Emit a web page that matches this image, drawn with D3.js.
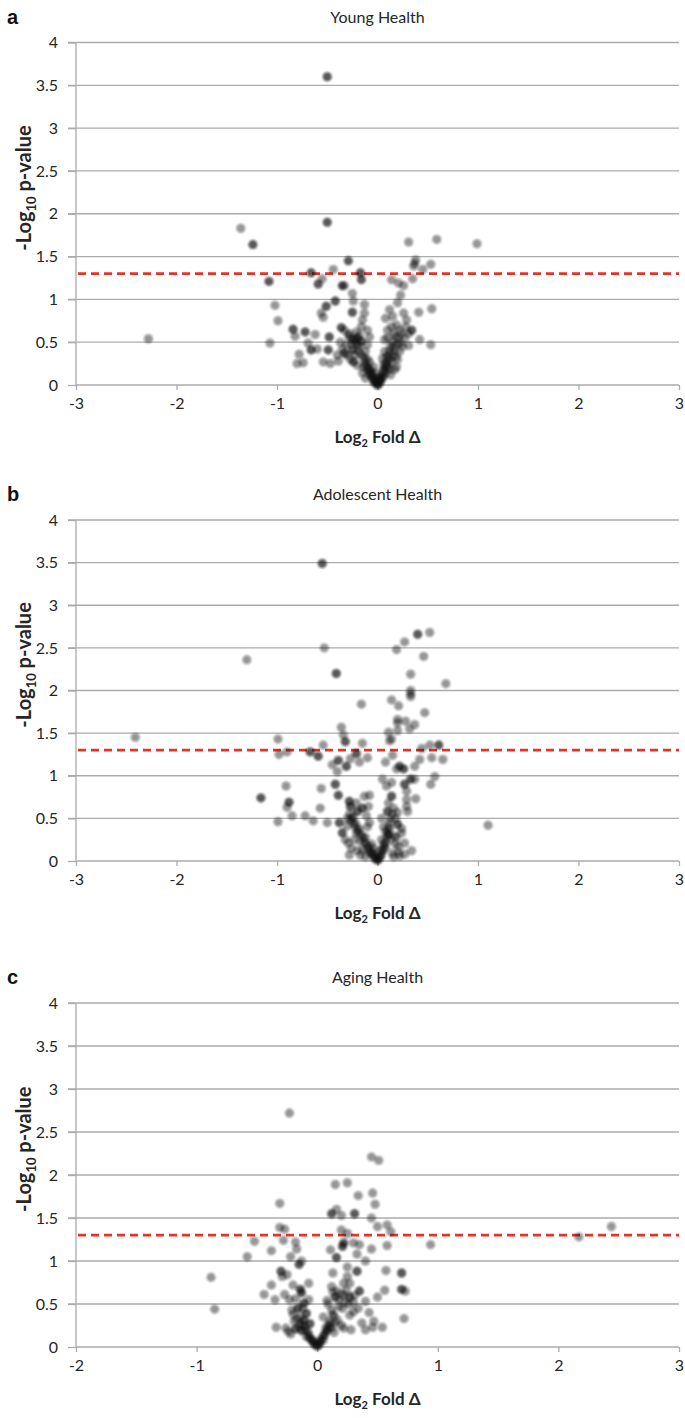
<!DOCTYPE html>
<html>
<head>
<meta charset="utf-8">
<script src="https://cdn.jsdelivr.net/npm/d3@7"></script>
<style>
  body { margin: 0; background: #fff; }
  svg { display: block; }
  text { font-family: Lato, "Open Sans", sans-serif; }
</style>
</head>
<body>
<svg id="chart" width="685" height="1418"></svg>
<script>
// ---------- DATA ----------
const yTicks = [0, 0.5, 1, 1.5, 2, 2.5, 3, 3.5, 4];
const xTicksWide = [-3, -2, -1, 0, 1, 2, 3];
const xTicksAging = [-2, -1, 0, 1, 2, 3];
const threshold = 1.301; // -log10(0.05)
const panelTitles = ["Young Health", "Adolescent Health", "Aging Health"];
const panelLetters = ["a", "b", "c"];

// [log2 fold change, -log10 p]
const youngPoints = [
 [-0.50,3.60],[-0.50,3.60],[-0.50,1.90],[-0.50,1.90],[-1.36,1.83],[-1.24,1.64],[-1.24,1.64],
 [0.31,1.67],[0.59,1.70],[0.99,1.65],
 [-0.29,1.45],[-0.29,1.45],[-0.44,1.35],[-0.66,1.31],[-0.66,1.31],[-0.17,1.31],[-0.17,1.31],
 [-0.16,1.23],[-0.16,1.23],[-1.08,1.21],[-1.08,1.21],[-0.55,1.24],[-0.59,1.18],[-0.59,1.18],
 [-0.35,1.16],[-0.35,1.16],[-0.33,1.16],
 [0.14,1.23],[0.21,1.19],[0.26,1.16],[0.23,1.05],[0.35,1.24],[0.36,1.39],[0.38,1.46],[0.37,1.42],
 [0.45,1.35],[0.53,1.41],
 [-0.25,1.07],[-0.24,0.98],[-0.42,0.98],[-0.42,0.98],[-0.51,0.92],[-0.51,0.92],[-1.02,0.93],
 [-0.25,0.85],[-0.25,0.85],[-0.13,0.94],[-0.56,0.84],[-0.54,0.79],[-0.99,0.75],
 [0.12,0.88],[0.15,0.80],[0.20,0.96],[0.26,0.84],[0.29,0.76],[0.41,0.85],[0.54,0.89],[0.08,0.78],
 [-0.84,0.65],[-0.84,0.65],[-0.72,0.62],[-0.72,0.62],[-0.62,0.59],[-0.48,0.56],[-0.48,0.56],
 [-0.36,0.67],[-0.36,0.67],[-0.33,0.64],[-0.82,0.57],[-1.07,0.49],[-2.28,0.54],[-0.69,0.49],
 [-0.66,0.41],[-0.66,0.41],[-0.60,0.42],[-0.49,0.41],[-0.49,0.41],[-0.78,0.36],[-0.80,0.25],
 [-0.74,0.26],[-0.54,0.27],[-0.47,0.25],[-0.39,0.28],
 [0.42,0.53],[0.53,0.47],[0.31,0.46],[0.34,0.64],[0.34,0.64],[0.31,0.60],[0.22,0.64],[0.14,0.68],
 [0.10,0.64],[0.18,0.56],[0.10,0.55],[0.07,0.53],[0.23,0.49],[0.16,0.45],[0.22,0.39],[0.09,0.33],
 [0.14,0.27],[0.19,0.21],[0.12,0.18],[0.05,0.31],[0.07,0.39],
 [-0.24,0.53],[-0.24,0.53],[-0.20,0.55],[-0.20,0.55],[-0.16,0.51],[-0.16,0.51],[-0.31,0.47],
 [-0.25,0.41],[-0.25,0.41],[-0.33,0.37],[-0.33,0.37],[-0.22,0.35],[-0.16,0.68],[-0.15,0.76],
 [-0.13,0.84],[-0.10,0.64],[-0.08,0.56],[-0.10,0.47],[-0.12,0.39],[-0.24,0.27],[-0.24,0.27],
 [-0.20,0.23],[-0.14,0.21],[-0.15,0.14],[-0.12,0.08],[-0.08,0.18],[-0.06,0.10],[-0.04,0.04],
 [0.00,0.00],[0.00,0.00],[0.02,0.02],[0.04,0.06],[0.06,0.10],[0.08,0.14],[0.10,0.21],[-0.08,0.27],
 [-0.04,0.21],[-0.02,0.14],[0.00,0.08],[-0.02,0.03],[0.01,0.01],[0.03,0.05],[-0.05,0.12],
 [0.05,0.15],[-0.10,0.30],[-0.18,0.45],[-0.28,0.60],[0.12,0.40],[0.20,0.30],[-0.03,0.06],
 [0.02,0.09],[-0.07,0.16],[0.06,0.24],[-0.11,0.22],[0.15,0.35],
 [-0.02,0.02],[-0.03,0.05],[-0.05,0.08],[-0.06,0.13],[-0.08,0.12],[-0.09,0.20],[-0.10,0.17],
 [-0.12,0.25],[-0.13,0.30],[-0.14,0.33],[-0.17,0.36],[-0.19,0.40],[-0.20,0.47],[-0.22,0.50],
 [-0.26,0.48],[-0.27,0.55],[-0.29,0.58],[-0.30,0.35],[-0.27,0.30],[-0.35,0.42],[-0.37,0.50],
 [-0.40,0.35],[-0.21,0.62],[-0.18,0.58],
 [0.02,0.04],[0.03,0.08],[0.05,0.10],[0.06,0.17],[0.07,0.20],[0.08,0.25],[0.09,0.22],[0.10,0.28],
 [0.11,0.35],[0.12,0.30],[0.13,0.45],[0.15,0.50],[0.17,0.40],[0.18,0.33],[0.20,0.48],[0.21,0.55],
 [0.24,0.60],[0.25,0.45],[0.27,0.55],[0.16,0.60],[0.19,0.70],[0.28,0.68],[0.13,0.12],[0.17,0.18]
];

const adolescentPoints = [
 [-0.55,3.49],[-0.55,3.49],[-0.53,2.50],[-1.30,2.36],[-0.41,2.20],[-0.41,2.20],[0.19,2.48],
 [0.27,2.57],[0.40,2.66],[0.40,2.66],[0.52,2.68],[0.46,2.40],[0.33,2.19],
 [0.68,2.08],[0.33,2.00],[0.33,1.96],[0.33,1.93],[-0.16,1.84],[0.14,1.89],[0.21,1.82],[0.47,1.74],
 [0.20,1.66],[0.20,1.62],[0.28,1.64],[0.37,1.60],[0.32,1.55],[0.20,1.53],[0.11,1.51],
 [-0.36,1.57],[-0.34,1.48],[-0.32,1.40],[-0.32,1.40],[0.12,1.41],[0.14,1.43],[-2.41,1.45],
 [-0.99,1.43],[-0.54,1.36],[-0.15,1.38],[-0.90,1.28],[-0.98,1.25],[-0.67,1.28],[-0.67,1.28],
 [-0.59,1.23],[-0.59,1.23],[-0.21,1.26],[-0.21,1.26],[-0.10,1.21],[-0.18,1.16],[-0.27,1.20],
 [-0.39,1.18],[-0.39,1.18],[-0.45,1.13],[-0.31,1.11],[-0.31,1.11],[-0.40,1.05],
 [0.15,1.24],[0.08,1.16],[0.19,1.08],[0.22,1.11],[0.22,1.11],[0.26,1.08],[0.26,1.08],[0.37,1.11],
 [0.42,1.19],[0.54,1.21],[0.65,1.19],[0.44,1.32],[0.52,1.36],[0.61,1.36],[0.61,1.36],
 [0.57,0.99],[0.53,0.90],[0.05,0.96],[0.14,0.92],[0.09,0.88],[0.27,0.90],[0.27,0.90],[0.33,0.96],
 [0.33,0.96],[0.37,0.96],[0.29,0.82],[0.29,0.72],[0.38,0.73],[0.29,0.64],[0.30,0.58],[0.20,0.57],
 [0.14,0.76],[0.14,0.76],[0.11,0.68],[0.10,0.58],[0.10,0.58],[0.20,0.43],[0.20,0.43],[0.12,0.37],
 [0.11,0.31],[0.11,0.31],[0.27,0.21],[0.21,0.17],[0.34,0.12],[0.21,0.10],[0.15,0.09],[1.10,0.42],
 [-0.91,0.88],[-0.56,0.85],[-0.42,0.90],[-0.42,0.90],[-0.39,0.77],[-0.39,0.77],[-1.16,0.74],
 [-1.16,0.74],[-0.88,0.69],[-0.88,0.69],[-0.90,0.63],[-0.57,0.62],[-0.85,0.53],[-0.72,0.53],
 [-0.64,0.47],[-0.50,0.45],[-0.99,0.46],[-0.38,0.45],[-0.38,0.45],
 [-0.28,0.70],[-0.28,0.70],[-0.27,0.64],[-0.27,0.64],[-0.20,0.58],[-0.20,0.58],[-0.15,0.62],
 [-0.15,0.62],[-0.09,0.64],[-0.13,0.76],[-0.08,0.77],[-0.11,0.53],[-0.08,0.45],
 [-0.35,0.33],[-0.35,0.33],[-0.30,0.41],[-0.29,0.21],[-0.28,0.07],[-0.21,0.33],[-0.17,0.23],
 [-0.15,0.13],[-0.09,0.17],[-0.07,0.09],[-0.03,0.03],[0.00,0.01],[0.00,0.01],[0.03,0.05],
 [0.05,0.11],[0.08,0.15],[0.13,0.25],[0.17,0.29],[-0.02,0.06],[0.01,0.02],[-0.05,0.10],
 [0.06,0.20],[-0.12,0.28],[-0.22,0.45],[-0.18,0.38],[0.08,0.35],[0.04,0.25],[-0.06,0.20],
 [0.18,0.50],[-0.25,0.52],[0.02,0.12],[-0.10,0.40],[0.24,0.33],[-0.04,0.15],
 [-0.02,0.03],[-0.04,0.06],[-0.06,0.09],[-0.08,0.12],[-0.10,0.15],[-0.11,0.20],[-0.13,0.22],
 [-0.14,0.27],[-0.16,0.30],[-0.18,0.33],[-0.20,0.36],[-0.22,0.40],[-0.24,0.44],[-0.25,0.50],
 [-0.27,0.48],[-0.30,0.50],[-0.23,0.25],[-0.26,0.15],[-0.20,0.12],[-0.32,0.25],[-0.12,0.05],
 [-0.17,0.07],[-0.28,0.55],[-0.21,0.68],
 [0.02,0.04],[0.04,0.08],[0.05,0.14],[0.07,0.18],[0.08,0.22],[0.09,0.28],[0.10,0.33],[0.11,0.40],
 [0.12,0.45],[0.13,0.50],[0.15,0.55],[0.16,0.62],[0.06,0.40],[0.04,0.50],[0.18,0.20],[0.16,0.05],
 [0.22,0.06],[0.27,0.08],[0.19,0.28],[0.24,0.38]
];

const agingPoints = [
 [-0.23,2.72],[0.45,2.21],[0.51,2.17],[0.15,1.89],[0.25,1.91],[0.34,1.76],[0.46,1.79],[0.48,1.66],
 [-0.31,1.67],[0.12,1.55],[0.12,1.55],[0.16,1.60],[0.20,1.53],[0.31,1.55],[0.31,1.55],[0.45,1.50],
 [0.50,1.40],[0.58,1.42],[0.61,1.34],[-0.31,1.39],[-0.27,1.37],[0.20,1.36],[0.25,1.32],
 [2.17,1.28],[2.44,1.40],
 [-0.52,1.23],[-0.28,1.24],[-0.18,1.22],[-0.17,1.14],[-0.38,1.12],[-0.58,1.05],[-0.22,1.05],
 [-0.13,1.00],[-0.15,0.96],[-0.15,0.96],[0.22,1.21],[0.22,1.21],[0.21,1.17],[0.21,1.17],
 [0.30,1.21],[0.35,1.19],[0.11,1.13],[0.16,1.04],[0.16,1.04],[0.33,1.08],[0.45,1.14],[0.58,1.18],
 [0.94,1.19],[0.40,1.00],[0.13,0.86],[0.25,0.93],[0.33,0.88],[0.33,0.88],[0.25,0.82],[0.57,0.89],
 [0.70,0.86],[0.70,0.86],[-0.30,0.88],[-0.30,0.88],[-0.25,0.84],[-0.29,0.82],[-0.88,0.81],
 [-0.38,0.72],[-0.44,0.61],[-0.35,0.55],[-0.27,0.61],[-0.20,0.72],[-0.14,0.67],[-0.14,0.67],
 [-0.13,0.63],[-0.13,0.63],[-0.07,0.74],[-0.18,0.56],[-0.11,0.51],[-0.11,0.51],
 [0.12,0.70],[0.22,0.74],[0.27,0.74],[0.13,0.64],[0.15,0.58],[0.15,0.58],[0.08,0.54],[0.22,0.60],
 [0.27,0.58],[0.27,0.58],[0.35,0.65],[0.35,0.65],[0.40,0.53],[0.50,0.58],[0.56,0.66],[0.70,0.67],
 [0.70,0.67],[0.73,0.65],
 [-0.85,0.44],[-0.21,0.43],[-0.16,0.45],[-0.16,0.45],[-0.09,0.39],[-0.09,0.39],[-0.17,0.33],
 [-0.11,0.31],[-0.11,0.31],[-0.06,0.27],[-0.06,0.27],[-0.34,0.23],[-0.24,0.18],[-0.18,0.21],
 [-0.18,0.21],[-0.13,0.19],[-0.13,0.19],[-0.09,0.12],[-0.06,0.10],[-0.03,0.06],[0.00,0.01],
 [0.00,0.01],[0.02,0.06],[0.05,0.12],[0.08,0.19],[0.08,0.19],[0.11,0.27],[0.12,0.43],[0.18,0.47],
 [0.21,0.45],[0.20,0.25],[0.28,0.20],[0.27,0.37],[0.30,0.41],[0.37,0.28],[0.43,0.40],[0.46,0.23],
 [0.47,0.30],[0.54,0.23],[0.72,0.33],[0.05,0.35],[0.17,0.31],[-0.02,0.03],[0.01,0.03],
 [-0.04,0.08],[0.03,0.09],[-0.07,0.15],[0.06,0.15],[0.10,0.22],[-0.10,0.24],[0.14,0.36],
 [-0.14,0.35],[0.09,0.50],
 [-0.02,0.03],[-0.04,0.06],[-0.05,0.09],[-0.07,0.12],[-0.08,0.18],[-0.10,0.20],[-0.12,0.25],
 [-0.14,0.28],[-0.15,0.24],[-0.19,0.30],[-0.20,0.38],[-0.22,0.15],[-0.26,0.22],[-0.23,0.55],
 [-0.12,0.45],[-0.07,0.55],
 [0.02,0.03],[0.03,0.07],[0.05,0.08],[0.06,0.14],[0.07,0.22],[0.09,0.25],[0.10,0.30],[0.12,0.22],
 [0.14,0.17],[0.15,0.28],[0.13,0.38],[0.18,0.55],[0.20,0.62],[0.16,0.65],[0.23,0.52],[0.26,0.50],
 [0.30,0.52],[0.31,0.60],[0.24,0.66],[0.34,0.45],[0.40,0.20],[0.22,0.22]
];

// ---------- LAYOUT ----------
const plotLeft = 76, plotRight = 679;
const panels = [
  { letter: panelLetters[0], title: panelTitles[0], pts: youngPoints,      xTicks: xTicksWide,  top: 42.5, bottom: 385 },
  { letter: panelLetters[1], title: panelTitles[1], pts: adolescentPoints, xTicks: xTicksWide,  top: 520,  bottom: 861 },
  { letter: panelLetters[2], title: panelTitles[2], pts: agingPoints,      xTicks: xTicksAging, top: 1003, bottom: 1347 }
];

const svg = d3.select("#chart");
svg.append("rect").attr("width", 685).attr("height", 1418).attr("fill", "#fff");

const defs = svg.append("defs");
defs.append("filter").attr("id", "soft")
  .attr("x", "-50%").attr("y", "-50%").attr("width", "200%").attr("height", "200%")
  .append("feGaussianBlur").attr("stdDeviation", 0.8);

const gridColor = "#ababab";
const textColor = "#262626";

panels.forEach(p => {
  const x = d3.scaleLinear().domain(d3.extent(p.xTicks)).range([plotLeft, plotRight]);
  const y = d3.scaleLinear().domain([0, 4]).range([p.bottom, p.top]);
  const g = svg.append("g");

  // panel letter
  g.append("text").attr("x", 7).attr("y", p.top - 19)
    .style("font-family", "Liberation Sans, Arial, sans-serif")
    .style("font-weight", "bold").style("font-size", "20px")
    .attr("fill", "#111").text(p.letter);

  // title
  g.append("text").attr("x", (plotLeft + plotRight) / 2).attr("y", p.top - 20)
    .attr("text-anchor", "middle").style("font-size", "16px")
    .attr("fill", textColor).text(p.title);

  // horizontal gridlines
  g.append("g").selectAll("line").data(yTicks.filter(d => d > 0)).join("line")
    .attr("x1", plotLeft - 8).attr("x2", plotRight)
    .attr("y1", d => y(d)).attr("y2", d => y(d))
    .attr("stroke", gridColor).attr("stroke-width", 1.3);

  // y axis
  const yAxis = g.append("g").attr("transform", `translate(${plotLeft},0)`)
    .call(d3.axisLeft(y).tickValues(yTicks).tickSize(8).tickPadding(10)
      .tickFormat(d => String(d)));
  yAxis.select(".domain").attr("stroke", gridColor).attr("stroke-width", 1.3)
    .attr("d", `M0,${p.top}V${p.bottom}`);
  yAxis.selectAll(".tick line").attr("stroke", gridColor).attr("stroke-width", 1.3);
  yAxis.selectAll(".tick text").style("font-size", "16px").attr("fill", textColor)
    .style("font-family", "Lato, sans-serif");

  // x axis
  const xAxis = g.append("g").attr("transform", `translate(0,${p.bottom})`)
    .call(d3.axisBottom(x).tickValues(p.xTicks).tickSize(5).tickPadding(8)
      .tickFormat(d => String(d)));
  xAxis.select(".domain").attr("stroke", gridColor).attr("stroke-width", 1.3)
    .attr("d", `M${plotLeft},0H${plotRight}`);
  xAxis.selectAll(".tick line").attr("stroke", gridColor).attr("stroke-width", 1.3);
  xAxis.selectAll(".tick text").style("font-size", "16px").attr("fill", textColor)
    .style("font-family", "Lato, sans-serif");

  // axis titles
  const yt = g.append("text")
    .attr("transform", `translate(31,${y(2.3)}) rotate(-90)`)
    .attr("text-anchor", "middle").style("font-weight", "bold").style("font-size", "20px")
    .attr("fill", textColor);
  yt.append("tspan").text("-Log");
  yt.append("tspan").attr("dy", 5).style("font-size", "13px").text("10");
  yt.append("tspan").attr("dy", -5).text(" p-value");

  const xt = g.append("text")
    .attr("x", (plotLeft + plotRight) / 2).attr("y", p.bottom + 58)
    .attr("text-anchor", "middle").style("font-weight", "bold").style("font-size", "17px")
    .attr("fill", textColor);
  xt.append("tspan").text("Log");
  xt.append("tspan").attr("dy", 4).style("font-size", "11px").text("2");
  xt.append("tspan").attr("dy", -4).text(" Fold Δ");

  // threshold line
  g.append("line")
    .attr("x1", plotLeft + 2).attr("x2", plotRight)
    .attr("y1", y(threshold)).attr("y2", y(threshold))
    .attr("stroke", "#e3342a").attr("stroke-width", 2.6)
    .attr("stroke-dasharray", "8,5");

  // points
  g.append("g").attr("filter", "url(#soft)")
    .selectAll("circle").data(p.pts).join("circle")
    .attr("cx", d => x(d[0])).attr("cy", d => y(d[1]))
    .attr("r", 4.5).attr("fill", "#111").attr("fill-opacity", 0.45);
});
</script>
</body>
</html>
